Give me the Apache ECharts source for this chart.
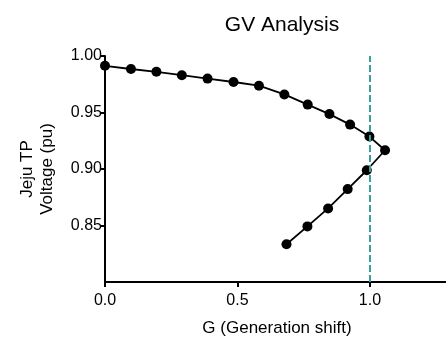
<!DOCTYPE html>
<html>
<head>
<meta charset="utf-8">
<script src="https://cdn.jsdelivr.net/npm/echarts@6/dist/echarts.min.js"></script>
<style>
  html, body { margin: 0; padding: 0; background: #fff; }
  #chart { width: 446px; height: 342px; }
</style>
</head>
<body>
<div id="chart"></div>
<script>
// generation shift (x) and TP voltage (y)
const gShift = [0, 0.098, 0.194, 0.29, 0.387, 0.485, 0.581, 0.677, 0.765, 0.847, 0.925, 0.998,
                1.057, 0.988, 0.916, 0.842, 0.764, 0.685];
const voltage = [0.9913, 0.9885, 0.986, 0.983, 0.980, 0.977, 0.9737, 0.966, 0.957, 0.9486, 0.9393, 0.9287,
                 0.9166, 0.8989, 0.8822, 0.8651, 0.8492, 0.8334];
const limitG = 1.0;

const font = 'Liberation Sans, Arial, sans-serif';
const chart = echarts.init(document.getElementById('chart'));

chart.setOption({
  animation: false,
  title: {
    text: 'GV Analysis',
    left: 277,
    top: 10,
    textAlign: 'center',
    textStyle: { fontFamily: font, fontSize: 21, fontWeight: 'normal', color: '#000' },
  },
  grid: { left: 105, right: 0, top: 56, bottom: 56 },
  xAxis: {
    type: 'value',
    min: 0,
    max: 1.287,
    interval: 0.5,
    name: 'G (Generation shift)',
    nameLocation: 'middle',
    nameGap: 38,
    nameTextStyle: { fontFamily: font, fontSize: 17, color: '#000', padding: [0, 0, 0, 3] },
    axisLine: { lineStyle: { color: '#000', width: 2 } },
    axisTick: { length: 5, lineStyle: { color: '#000', width: 2 } },
    axisLabel: {
      fontFamily: font, fontSize: 16, color: '#000', margin: 11,
      showMaxLabel: false,
      formatter: (v) => v.toFixed(1),
    },
    splitLine: { show: false },
  },
  yAxis: {
    type: 'value',
    min: 0.8,
    max: 1.0,
    interval: 0.05,
    name: 'Jeju TP\nVoltage (pu)',
    nameLocation: 'middle',
    nameGap: 48,
    nameTextStyle: { fontFamily: font, fontSize: 17, color: '#000', lineHeight: 20 },
    axisLine: { lineStyle: { color: '#000', width: 2 } },
    axisTick: { length: 5, lineStyle: { color: '#000', width: 2 } },
    axisLabel: {
      fontFamily: font, fontSize: 16, color: '#000', margin: 3,
      showMinLabel: false,
      formatter: (v) => v.toFixed(2),
    },
    splitLine: { show: false },
  },
  series: [{
    type: 'line',
    data: gShift.map((g, i) => [g, voltage[i]]),
    symbol: 'circle',
    symbolSize: 10,
    itemStyle: { color: '#000' },
    lineStyle: { color: '#000', width: 1.8 },
    markLine: {
      silent: true,
      symbol: 'none',
      label: { show: false },
      lineStyle: { color: '#3a9e99', type: [7, 3], width: 2 },
      data: [{ xAxis: limitG }],
    },
  }],
});
</script>
</body>
</html>
